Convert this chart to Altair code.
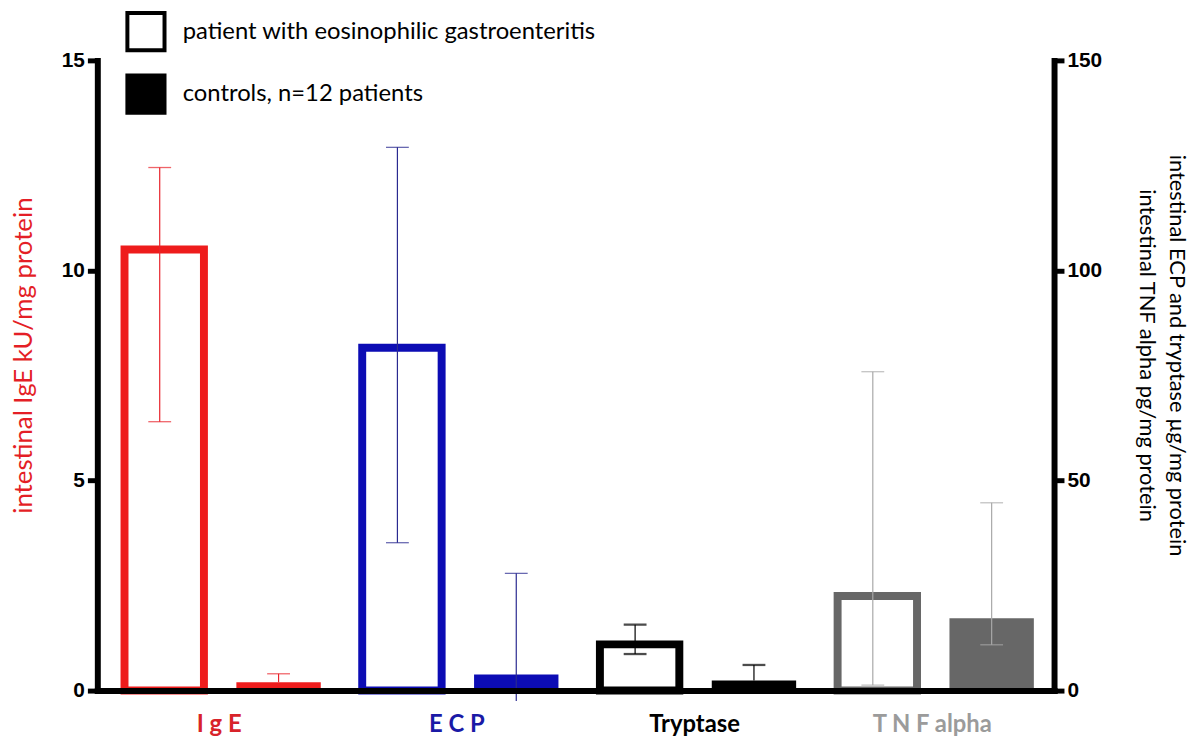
import altair as alt
import pandas as pd

# ---- data ----
categories = ["IgE", "ECP", "Tryptase", "TNF alpha"]
tick_labels = ["I g E", "E C P", "Tryptase", "T N F alpha"]
axis_side = ["left", "right", "right", "right"]

patient_mean = [10.5, 81.6, 11.0, 22.5]
patient_low = [6.4, 35.2, 8.7, 1.3]
patient_high = [12.45, 129.3, 15.7, 75.9]

control_mean = [0.2, 3.8, 2.4, 17.2]
control_low = [0.2, -2.5, 2.4, 10.9]
control_high = [0.4, 27.9, 6.1, 44.7]

groups = ["patient", "control"]
legend_labels = ["patient with eosinophilic gastroenteritis", "controls, n=12 patients"]

bar_colors = ["#ee1c1c", "#0c0cb4", "#000000", "#676767"]
err_colors = ["#e8222a", "#2a2a90", "#000000", "#a8a8a8"]
err_widths = [1.2, 1.2, 2.2, 1.5]

rows = []
for i, c in enumerate(categories):
    rows.append(dict(cat=c, label=tick_labels[i], grp="patient", side=axis_side[i],
                     value=patient_mean[i], lo=patient_low[i], hi=patient_high[i]))
    rows.append(dict(cat=c, label=tick_labels[i], grp="control", side=axis_side[i],
                     value=control_mean[i], lo=control_low[i], hi=control_high[i]))
df = pd.DataFrame(rows)

color_scale = alt.Scale(domain=categories, range=bar_colors)
err_scale = alt.Scale(domain=categories, range=err_colors)
errw_scale = alt.Scale(domain=categories, range=err_widths)

label_color_expr = (
    "datum.value == 'I g E' ? '#d8232a' : datum.value == 'E C P' ? '#1a1aa6' : "
    "datum.value == 'Tryptase' ? '#000000' : '#9b9b9b'"
)

x_axis = alt.Axis(
    title=None, labelAngle=0, labelFont="Lato", labelFontSize=24, labelFontWeight="bold",
    labelColor={"expr": label_color_expr}, labelPadding=22, labelBaseline="top",
    ticks=False, tickSize=0, domainWidth=6, domainColor="black", domainCap="square",
    zindex=1, grid=False,
)
x_enc = alt.X("label:N", sort=tick_labels,
              scale=alt.Scale(paddingInner=0, paddingOuter=0.0125), axis=x_axis)
xo_enc = alt.XOffset("grp:N", sort=groups,
                     scale=alt.Scale(paddingInner=0.29, paddingOuter=0.145))

common_y_axis = dict(
    labelFont="Liberation Sans", labelFontWeight="bold", labelFontSize=21, labelColor="black",
    labelPadding=3, tickSize=10, tickWidth=5, tickColor="black", domainWidth=6,
    domainColor="black", domainCap="square", grid=False, zindex=1,
    titleFont="Lato", titleFontWeight="normal", titleY=297,
)

left_axis = alt.Axis(orient="left", values=[0, 5, 10, 15],
                     title="intestinal IgE kU/mg protein", titleColor="#e41e26",
                     titleFontSize=26, titlePadding=25, **common_y_axis)
right_axis = alt.Axis(orient="right", values=[0, 50, 100, 150],
                      title=["intestinal ECP and tryptase µg/mg protein",
                             "intestinal TNF alpha pg/mg protein"],
                      titleColor="black", titleFontSize=22, titleLineHeight=30,
                      titlePadding=33, **common_y_axis)


def group_layer(side, domain, axis):
    ys = alt.Scale(domain=domain, nice=False, zero=True)
    base = alt.Chart(df).transform_filter(f"datum.side == '{side}'")
    y_val = alt.Y("value:Q", scale=ys, axis=axis)

    outlined = base.transform_filter("datum.grp == 'patient'").mark_bar(
        fill="white", strokeWidth=8, strokeJoin="miter", width=alt.RelativeBandSize(80 / 85)
    ).encode(x=x_enc, xOffset=xo_enc, y=y_val,
             stroke=alt.Stroke("cat:N", scale=color_scale, legend=None))

    filled = base.transform_filter("datum.grp == 'control'").mark_bar().encode(
        x=x_enc, xOffset=xo_enc, y=y_val,
        fill=alt.Fill("cat:N", scale=color_scale, legend=None))

    rule = base.mark_rule().encode(
        x=x_enc, xOffset=xo_enc,
        y=alt.Y("lo:Q", scale=ys, axis=axis), y2="hi:Q",
        color=alt.Color("cat:N", scale=err_scale, legend=None),
        strokeWidth=alt.StrokeWidth("cat:N", scale=errw_scale, legend=None))

    cap_hi_thin = base.transform_filter("datum.cat != 'Tryptase'").mark_tick(
        size=23, thickness=1.3).encode(
        x=x_enc, xOffset=xo_enc, y=alt.Y("hi:Q", scale=ys, axis=axis),
        color=alt.Color("cat:N", scale=err_scale, legend=None))
    cap_lo_thin = base.transform_filter(
        "datum.cat != 'Tryptase' && datum.lo > 0 && datum.lo < datum.value").mark_tick(
        size=23, thickness=1.3).encode(
        x=x_enc, xOffset=xo_enc, y=alt.Y("lo:Q", scale=ys, axis=axis),
        color=alt.Color("cat:N", scale=err_scale, legend=None))
    cap_hi_thick = base.transform_filter("datum.cat == 'Tryptase'").mark_tick(
        size=23, thickness=2.3).encode(
        x=x_enc, xOffset=xo_enc, y=alt.Y("hi:Q", scale=ys, axis=axis),
        color=alt.Color("cat:N", scale=err_scale, legend=None))
    cap_lo_thick = base.transform_filter(
        "datum.cat == 'Tryptase' && datum.lo > 0 && datum.lo < datum.value").mark_tick(
        size=23, thickness=2.3).encode(
        x=x_enc, xOffset=xo_enc, y=alt.Y("lo:Q", scale=ys, axis=axis),
        color=alt.Color("cat:N", scale=err_scale, legend=None))

    return alt.layer(outlined, filled, rule, cap_hi_thin, cap_lo_thin, cap_hi_thick, cap_lo_thick)


left_group = group_layer("left", [0, 15], left_axis)
right_group = group_layer("right", [0, 150], right_axis)

legend_layer = alt.Chart(pd.DataFrame({"entry": legend_labels})).transform_filter(
    "false").mark_square(stroke="black", strokeWidth=4, opacity=1).encode(
    fill=alt.Fill("entry:N", sort=legend_labels,
                  scale=alt.Scale(domain=legend_labels, range=["white", "black"]),
                  legend=alt.Legend(
                      orient="none", legendX=28, legendY=-50, direction="vertical",
                      title=None, labelFont="Lato", labelFontSize=24, labelColor="black",
                      symbolType="square", symbolSize=1400, symbolStrokeWidth=4,
                      symbolStrokeColor="black", symbolOpacity=1, rowPadding=9,
                      labelOffset=16, labelLimit=0, padding=0)))

chart = alt.layer(left_group, right_group, legend_layer).resolve_scale(
    y="independent", fill="independent", stroke="independent", color="independent",
    strokeWidth="independent"
).properties(
    width=964, height=635,
    padding={"left": 2, "top": 0, "right": 4, "bottom": 0},
    background="white",
).configure_view(stroke=None)

chart.save("out.html", embed_options={"renderer": "svg", "actions": False})
